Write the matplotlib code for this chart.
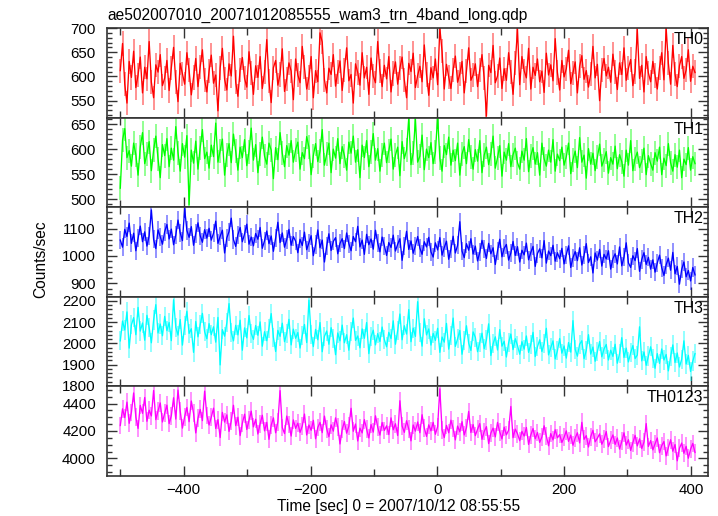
import numpy as np
import matplotlib
matplotlib.use("Agg")
import matplotlib.pyplot as plt
from matplotlib.ticker import MultipleLocator, FuncFormatter

plt.rcParams['font.family'] = ['Liberation Sans', 'DejaVu Sans']

title = "ae502007010_20071012085555_wam3_trn_4band_long.qdp"
xlabel = "Time [sec] 0 = 2007/10/12 08:55:55"
ylabel = "Counts/sec"
bands = ["TH0", "TH1", "TH2", "TH3", "TH0123"]
colors = ["#ff0000", "#00ff00", "#0000ff", "#00ffff", "#ff00ff"]

# time of the first bin and bin width [sec]
t_first = -500.0
t_bin = 3.5

th0 = [612, 668, 584, 545, 631, 598, 652, 577, 603, 640, 566, 619, 595, 672, 588, 556, 624, 609, 645, 581,
       597, 633, 571, 618, 660, 589, 548, 627, 605, 584, 649, 613, 562, 598, 637, 579, 620, 655, 592, 568,
       611, 644, 586, 603, 529, 617, 658, 594, 572, 626, 601, 683, 588, 559, 614, 639, 596, 578, 651, 607,
       563, 622, 598, 641, 575, 609, 676, 590, 546, 618, 633, 582, 604, 657, 569, 595, 628, 611, 552, 636,
       603, 587, 662, 619, 574, 598, 641, 556, 612, 589, 690, 671, 593, 566, 617, 604, 645, 580, 609, 632,
       571, 614, 659, 591, 604, 545, 626, 608, 582, 649, 597, 619, 563, 638, 601, 587, 672, 612, 579, 623,
       595, 641, 568, 606, 630, 584, 617, 640, 593, 556, 627, 610, 648, 577, 602, 621, 589, 665, 604, 561,
       618, 597, 636, 583, 700, 652, 574, 625, 599, 575, 614, 642, 588, 605, 631, 566, 611, 659, 592, 603,
       626, 579, 614, 645, 596, 518, 623, 608, 664, 587, 601, 638, 575, 616, 592, 649, 609, 563, 627, 698,
       583, 641, 612, 597, 658, 574, 619, 602, 636, 589, 611, 567, 648, 603, 624, 591, 678, 608, 572, 633,
       599, 616, 654, 585, 607, 630, 566, 621, 643, 594, 612, 578, 605, 662, 597, 625, 550, 614, 637, 601,
       619, 588, 646, 609, 573, 628, 604, 659, 592, 617, 635, 581, 610, 697, 596, 623, 568, 641, 607, 589,
       631, 602, 574, 618, 649, 593, 700, 627, 584, 664, 605, 579, 622, 641, 596, 613, 655, 590, 621, 608]

th1 = [522, 618, 641, 583, 597, 566, 612, 589, 548, 604, 633, 571, 590, 615, 557, 598, 626, 581, 543, 609,
       587, 621, 565, 602, 578, 645, 593, 556, 611, 584, 627, 489, 598, 572, 616, 560, 603, 639, 581, 594,
       562, 608, 585, 652, 574, 597, 620, 548, 589, 611, 573, 630, 596, 558, 604, 583, 619, 567, 595, 642,
       578, 609, 553, 591, 624, 586, 570, 612, 598, 541, 603, 579, 633, 592, 565, 607, 588, 617, 574, 599,
       614, 560, 593, 581, 625, 604, 549, 587, 611, 575, 596, 639, 568, 590, 612, 553, 600, 582, 621, 571,
       605, 587, 558, 614, 592, 626, 574, 599, 543, 608, 583, 617, 565, 594, 631, 578, 601, 556, 589, 612,
       573, 597, 620, 560, 588, 604, 547, 615, 581, 598, 663, 569, 592, 660, 574, 586, 628, 559, 600, 583,
       613, 571, 594, 665, 582, 556, 607, 589, 624, 568, 598, 577, 612, 548, 590, 605, 571, 619, 584, 560,
       599, 576, 617, 553, 588, 604, 569, 591, 626, 562, 583, 607, 546, 594, 578, 611, 565, 589, 602, 573,
       560, 596, 578, 621, 555, 587, 603, 570, 593, 548, 612, 581, 566, 598, 574, 619, 556, 590, 577, 604,
       568, 585, 612, 551, 579, 596, 563, 623, 574, 588, 542, 601, 570, 592, 557, 584, 610, 566, 579, 595,
       552, 583, 570, 606, 561, 589, 575, 546, 598, 568, 617, 557, 581, 594, 563, 576, 602, 549, 587, 571,
       558, 593, 576, 604, 549, 582, 567, 611, 573, 556, 589, 564, 598, 543, 580, 569, 603, 558, 585, 571]

th2 = [1058, 1032, 1097, 1071, 1120, 1046, 1083, 1019, 1064, 1109, 1052, 1088, 1036, 1074, 1168, 1061, 1027, 1095, 1070, 1043,
       1089, 1115, 1062, 1098, 1041, 1077, 1131, 1084, 1056, 1172, 1093, 1068, 1107, 1039, 1082, 1121, 1074, 1050, 1096, 1065,
       1101, 1058, 1083, 1127, 1046, 1072, 1094, 1011, 1066, 1089, 1138, 1060, 1035, 1078, 1104, 1052, 1081, 1116, 1043, 1069,
       1037, 1082, 1061, 1104, 1028, 1056, 1091, 1045, 1073, 1017, 1066, 1123, 1049, 1084, 1032, 1060, 1097, 1039, 1071, 1054,
       1012, 1061, 1038, 1087, 1023, 1049, 1074, 1001, 1042, 1095, 1030, 1058, 978, 1036, 1081, 1020, 1053, 1067, 1008, 1046,
       1063, 1027, 1084, 1045, 1019, 1071, 1052, 1108, 1033, 1058, 1006, 1079, 1041, 1062, 1025, 1094, 1047, 1015, 1069, 1038,
       1002, 1049, 1031, 1076, 1018, 1043, 1063, 984, 1036, 1090, 1024, 1055, 1010, 1038, 1071, 1029, 1006, 1052, 1033, 1068,
       1015, 996, 1048, 1022, 1067, 1003, 1031, 1054, 988, 1026, 1072, 1011, 1039, 1125, 1018, 994, 1045, 1021, 1063, 1007,
       1036, 982, 1013, 1057, 1024, 991, 1046, 1008, 1030, 969, 1019, 1061, 997, 1028, 1042, 985, 1011, 1053, 1002, 1034,
       978, 1021, 1004, 1047, 986, 1013, 1035, 962, 1009, 1026, 993, 1056, 974, 1018, 1001, 1039, 981, 1012, 990, 1028,
       971, 1005, 1037, 958, 994, 1016, 983, 1030, 967, 1002, 1045, 976, 997, 938, 1011, 985, 1024, 963, 1006, 989,
       1019, 952, 990, 1008, 971, 1033, 964, 996, 1048, 975, 958, 1001, 983, 1027, 944, 987, 1012, 969, 995, 952,
       986, 941, 974, 1003, 957, 929, 968, 992, 948, 1013, 935, 962, 897, 951, 978, 924, 947, 909, 958, 931]

th3 = [2012, 2105, 2063, 2148, 1978, 2087, 2121, 2041, 2169, 2058, 2096, 2015, 2132, 2074, 2003, 2110, 2182, 2049, 2091, 2036,
       2127, 2060, 2098, 2013, 2205, 2076, 2039, 2112, 1992, 2084, 2151, 2047, 2069, 1958, 2103, 2031, 2088, 2141, 2055, 2022,
       2093, 2041, 2078, 2006, 2122, 1899, 2065, 2034, 2097, 2187, 2051, 2012, 2085, 2040, 2109, 1968, 2073, 2026, 2131, 2047,
       2019, 2084, 2038, 2101, 1987, 2055, 2013, 2072, 2140, 2029, 1962, 2061, 2033, 2095, 2008, 2048, 2113, 1993, 2067, 2024,
       2051, 1978, 2036, 2089, 2004, 2203, 2042, 1985, 2066, 2017, 2098, 1961, 2033, 2058, 1996, 2074, 2025, 1947, 2049, 2012,
       2086, 2003, 2041, 1968, 2057, 2119, 2014, 2035, 1979, 2068, 2024, 2098, 1952, 2031, 2062, 1993, 2046, 2009, 2077, 2018,
       1984, 2052, 2023, 2106, 1996, 2061, 2138, 2017, 2083, 2044, 2159, 2008, 2072, 2033, 2196, 2051, 1987, 2116, 2040, 2068,
       1992, 2047, 2014, 2071, 1958, 2030, 2006, 2094, 1973, 2038, 2119, 1986, 2022, 2061, 1949, 2012, 2083, 2001, 1967, 2054,
       2029, 1961, 2004, 2048, 1975, 2016, 2092, 1943, 1998, 2031, 1969, 2065, 1987, 2010, 1936, 2003, 2044, 1971, 2022, 1990,
       1949, 2008, 1973, 2035, 1958, 1996, 2052, 1938, 1984, 2017, 1962, 1999, 2071, 1946, 1980, 2012, 1927, 1966, 2023, 1954,
       1988, 1931, 2004, 1959, 2107, 1972, 1940, 1996, 2013, 1928, 1967, 2041, 1950, 1983, 1916, 1961, 2009, 1937, 1974, 1995,
       1922, 1968, 1939, 1996, 1907, 1952, 2027, 1934, 1978, 1913, 1956, 1990, 1929, 1945, 2078, 1918, 1960, 1897, 1941, 1984,
       1931, 1883, 1952, 1906, 1974, 1922, 1948, 1871, 1937, 1993, 1910, 1955, 1889, 1926, 2012, 1903, 1944, 1868, 1917, 1952]

th0123 = [4240, 4362, 4298, 4411, 4256, 4335, 4478, 4302, 4219, 4387, 4329, 4445, 4271, 4352, 4310, 4496, 4283, 4347, 4405, 4266,
          4331, 4389, 4254, 4312, 4443, 4287, 4499, 4346, 4221, 4305, 4372, 4268, 4419, 4330, 4186, 4293, 4358, 4276, 4491, 4314,
          4244, 4301, 4367, 4218, 4283, 4152, 4336, 4265, 4318, 4197, 4274, 4388, 4239, 4301, 4166, 4256, 4323, 4211, 4279, 4345,
          4230, 4286, 4178, 4252, 4315, 4201, 4263, 4139, 4242, 4296, 4187, 4268, 4495, 4226, 4181, 4309, 4248, 4163, 4281, 4219,
          4257, 4190, 4236, 4324, 4171, 4244, 4205, 4278, 4143, 4226, 4263, 4188, 4309, 4217, 4158, 4245, 4199, 4296, 4231, 4105,
          4212, 4269, 4184, 4235, 4366, 4198, 4251, 4127, 4221, 4186, 4283, 4213, 4149, 4247, 4192, 4311, 4228, 4170, 4262, 4204,
          4238, 4174, 4296, 4209, 4253, 4167, 4421, 4236, 4190, 4275, 4215, 4128, 4244, 4199, 4266, 4187, 4319, 4223, 4160, 4245,
          4201, 4263, 4176, 4232, 4508, 4208, 4152, 4241, 4187, 4279, 4219, 4135, 4236, 4194, 4268, 4171, 4224, 4343, 4189, 4247,
          4166, 4213, 4254, 4139, 4196, 4232, 4108, 4185, 4221, 4157, 4263, 4194, 4142, 4228, 4172, 4206, 4379, 4151, 4214, 4180,
          4129, 4197, 4163, 4226, 4102, 4171, 4218, 4143, 4189, 4117, 4156, 4238, 4163, 4092, 4181, 4135, 4209, 4150, 4174, 4116,
          4154, 4201, 4124, 4170, 4096, 4148, 4187, 4113, 4263, 4139, 4166, 4083, 4158, 4205, 4121, 4147, 4179, 4103, 4140, 4196,
          4086, 4132, 4171, 4102, 4149, 4068, 4124, 4187, 4097, 4136, 4058, 4115, 4168, 4091, 4143, 4072, 4119, 4254, 4087, 4130,
          4062, 4107, 4149, 4041, 4093, 4123, 4018, 4079, 4136, 4052, 4101, 3982, 4074, 4112, 4037, 4088, 4001, 4066, 4109, 4043]

# typical 1-sigma error of one bin in each band
errors = [25, 24, 33, 45, 65]

series = [th0, th1, th2, th3, th0123]
ylims = [(515, 700), (484, 663), (851, 1178), (1798, 2219), (3871, 4526)]
ymajor = [50, 50, 100, 100, 200]
yminor = [10, 10, 20, 20, 50]

fig = plt.figure(figsize=(7.18, 5.16), dpi=100)
left, right = 107 / 718, 708 / 718
top, bottom = 1 - 28 / 516, 1 - 476 / 516
h = (top - bottom) / 5

for i, (name, col, vals) in enumerate(zip(bands, colors, series)):
    ax = fig.add_axes([left, top - (i + 1) * h, right - left, h])
    vals = np.array(vals, dtype=float)
    t = t_first + t_bin * np.arange(len(vals))
    ax.errorbar(t, vals, yerr=errors[i], fmt='none', ecolor=col, elinewidth=1.2, alpha=0.5)
    ax.plot(t, vals, color=col, lw=0.95)
    ax.set_xlim(-521, 427)
    ax.set_ylim(*ylims[i])
    ax.yaxis.set_major_locator(MultipleLocator(ymajor[i]))
    ax.yaxis.set_minor_locator(MultipleLocator(yminor[i]))
    ax.xaxis.set_major_locator(MultipleLocator(200))
    ax.xaxis.set_minor_locator(MultipleLocator(100))
    ax.tick_params(which='both', direction='in', top=True, right=True, color='#333333', width=1.0)
    ax.tick_params(which='major', length=7, labelsize=10.8)
    ax.tick_params(axis='y', which='major', pad=8)
    ax.tick_params(axis='x', which='major', pad=5)
    ax.tick_params(axis='x', which='minor', length=5)
    ax.tick_params(axis='y', which='minor', length=3.5)
    for s in ax.spines.values():
        s.set_color('#333333')
        s.set_linewidth(1.2)
    ax.text(0.992, 0.955, name, transform=ax.transAxes, ha='right', va='top', fontsize=11.4)
    if i < 4:
        ax.set_xticklabels([])
    else:
        ax.xaxis.set_major_formatter(FuncFormatter(lambda v, p: f"{int(v)}".replace('-', '\u2212')))
    ax.yaxis.set_major_formatter(FuncFormatter(lambda v, p: f"{int(v)}"))

fig.text(left, 1 - 15 / 516, title, ha='left', va='center', fontsize=11.2)
fig.text(398.5 / 718, 1 - 507 / 516, xlabel, ha='center', va='center', fontsize=11.2)
fig.text(41 / 718, 1 - 259 / 516, ylabel, ha='center', va='center', rotation=90, fontsize=11.2)

fig.savefig("out.png", dpi=100)
